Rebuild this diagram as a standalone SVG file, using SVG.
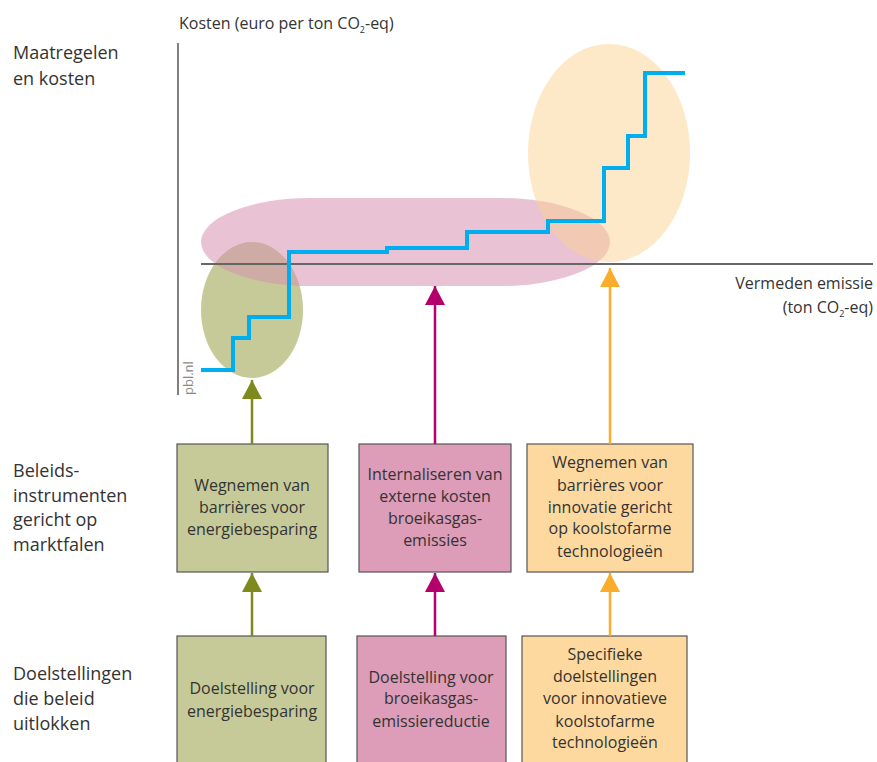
<svg xmlns="http://www.w3.org/2000/svg" width="877" height="762" viewBox="0 0 877 762">
<style>
text{font-family:"Open Sans","Noto Sans","Liberation Sans",sans-serif;fill:#333333}
.lab{font-size:18px}
.ax{font-size:16px}
.bt{font-size:16px;text-anchor:middle}
.box{stroke:#555555;stroke-width:1.2}
.gr{fill:#c6ca99}.pk{fill:#dd9cb7}.or{fill:#fdd9a0}
</style>
<defs>
<marker id="ag" viewBox="0 0 19 20" markerWidth="19" markerHeight="20" refX="19" refY="10" orient="auto" markerUnits="userSpaceOnUse"><path d="M0,0 L19,10 L0,20 Z" fill="#7f8a1e"/></marker>
<marker id="ap" viewBox="0 0 19 20" markerWidth="19" markerHeight="20" refX="19" refY="10" orient="auto" markerUnits="userSpaceOnUse"><path d="M0,0 L19,10 L0,20 Z" fill="#b4006a"/></marker>
<marker id="ao" viewBox="0 0 19 20" markerWidth="19" markerHeight="20" refX="19" refY="10" orient="auto" markerUnits="userSpaceOnUse"><path d="M0,0 L19,10 L0,20 Z" fill="#f9ad2a"/></marker>
</defs>

<g id="row-labels">
<text class="lab" x="13" y="59">Maatregelen</text>
<text class="lab" x="13" y="85">en kosten</text>
<text class="lab" x="13" y="477">Beleids-</text>
<text class="lab" x="13" y="502">instrumenten</text>
<text class="lab" x="13" y="526">gericht op</text>
<text class="lab" x="13" y="551">marktfalen</text>
<text class="lab" x="13" y="680">Doelstellingen</text>
<text class="lab" x="13" y="705">die beleid</text>
<text class="lab" x="13" y="730">uitlokken</text>
</g>

<g id="chart">
<line x1="178" y1="43" x2="178" y2="395" stroke="#555555" stroke-width="1.5"/>
<text class="ax" x="179" y="29">Kosten (euro per ton CO<tspan font-size="9" dy="4">2</tspan><tspan dy="-4">-eq)</tspan></text>
<ellipse id="ell-green" cx="252" cy="310" rx="51" ry="68" fill="#c6ca99"/>
<rect id="ell-pink" x="201" y="198" width="409" height="88" rx="110" ry="44" fill="#d792b1" fill-opacity="0.55"/>
<ellipse id="ell-orange" cx="609" cy="153" rx="81" ry="109" fill="#fbd191" fill-opacity="0.5"/>
<line x1="201" y1="264" x2="873" y2="264" stroke="#666666" stroke-width="1.8"/>
<text class="ax" x="873" y="289" text-anchor="end">Vermeden emissie</text>
<text class="ax" x="873" y="313" text-anchor="end">(ton CO<tspan font-size="9" dy="4">2</tspan><tspan dy="-4">-eq)</tspan></text>
<path d="M201,370 H233 V338 H249 V317 H289 V252 H387 V248 H467 V232 H548 V221 H604 V168 H628 V136 H645 V73 H685" fill="none" stroke="#00aeef" stroke-width="4"/>
<text x="0" y="0" font-size="13" style="fill:#888888" transform="translate(193,395) rotate(-90)">pbl.nl</text>
</g>

<g id="box-green-instr">
<rect class="box gr" x="177" y="444" width="151" height="128"/>
<text class="bt" x="252" y="491">Wegnemen van</text>
<text class="bt" x="252" y="513">barrières voor</text>
<text class="bt" x="252" y="535">energiebesparing</text>
</g>
<g id="box-pink-instr">
<rect class="box pk" x="359" y="444" width="152" height="128"/>
<text class="bt" x="435" y="480">Internaliseren van</text>
<text class="bt" x="435" y="502">externe kosten</text>
<text class="bt" x="435" y="524">broeikasgas-</text>
<text class="bt" x="435" y="546">emissies</text>
</g>
<g id="box-orange-instr">
<rect class="box or" x="527" y="444" width="166" height="128"/>
<text class="bt" x="610" y="468">Wegnemen van</text>
<text class="bt" x="610" y="491">barrières voor</text>
<text class="bt" x="610" y="513">innovatie gericht</text>
<text class="bt" x="610" y="534">op koolstofarme</text>
<text class="bt" x="610" y="557">technologieën</text>
</g>

<g id="box-green-goal">
<rect class="box gr" x="177" y="636" width="149" height="140"/>
<text class="bt" x="252" y="694">Doelstelling voor</text>
<text class="bt" x="252" y="717">energiebesparing</text>
</g>
<g id="box-pink-goal">
<rect class="box pk" x="357" y="636" width="149" height="140"/>
<text class="bt" x="431" y="683">Doelstelling voor</text>
<text class="bt" x="431" y="704">broeikasgas-</text>
<text class="bt" x="431" y="727">emissiereductie</text>
</g>
<g id="box-orange-goal">
<rect class="box or" x="522" y="636" width="165" height="140"/>
<text class="bt" x="605" y="660">Specifieke</text>
<text class="bt" x="605" y="682">doelstellingen</text>
<text class="bt" x="605" y="704">voor innovatieve</text>
<text class="bt" x="605" y="727">koolstofarme</text>
<text class="bt" x="605" y="748">technologieën</text>
</g>

<g id="connectors" stroke-width="2.5" fill="none">
<line x1="252" y1="444" x2="252" y2="380" stroke="#7f8a1e" marker-end="url(#ag)"/>
<line x1="435" y1="444" x2="435" y2="286" stroke="#b4006a" marker-end="url(#ap)"/>
<line x1="610" y1="444" x2="610" y2="268" stroke="#f9ad2a" marker-end="url(#ao)"/>
<line x1="252" y1="636" x2="252" y2="573" stroke="#7f8a1e" marker-end="url(#ag)"/>
<line x1="435" y1="636" x2="435" y2="573" stroke="#b4006a" marker-end="url(#ap)"/>
<line x1="610" y1="636" x2="610" y2="573" stroke="#f9ad2a" marker-end="url(#ao)"/>
</g>
</svg>
